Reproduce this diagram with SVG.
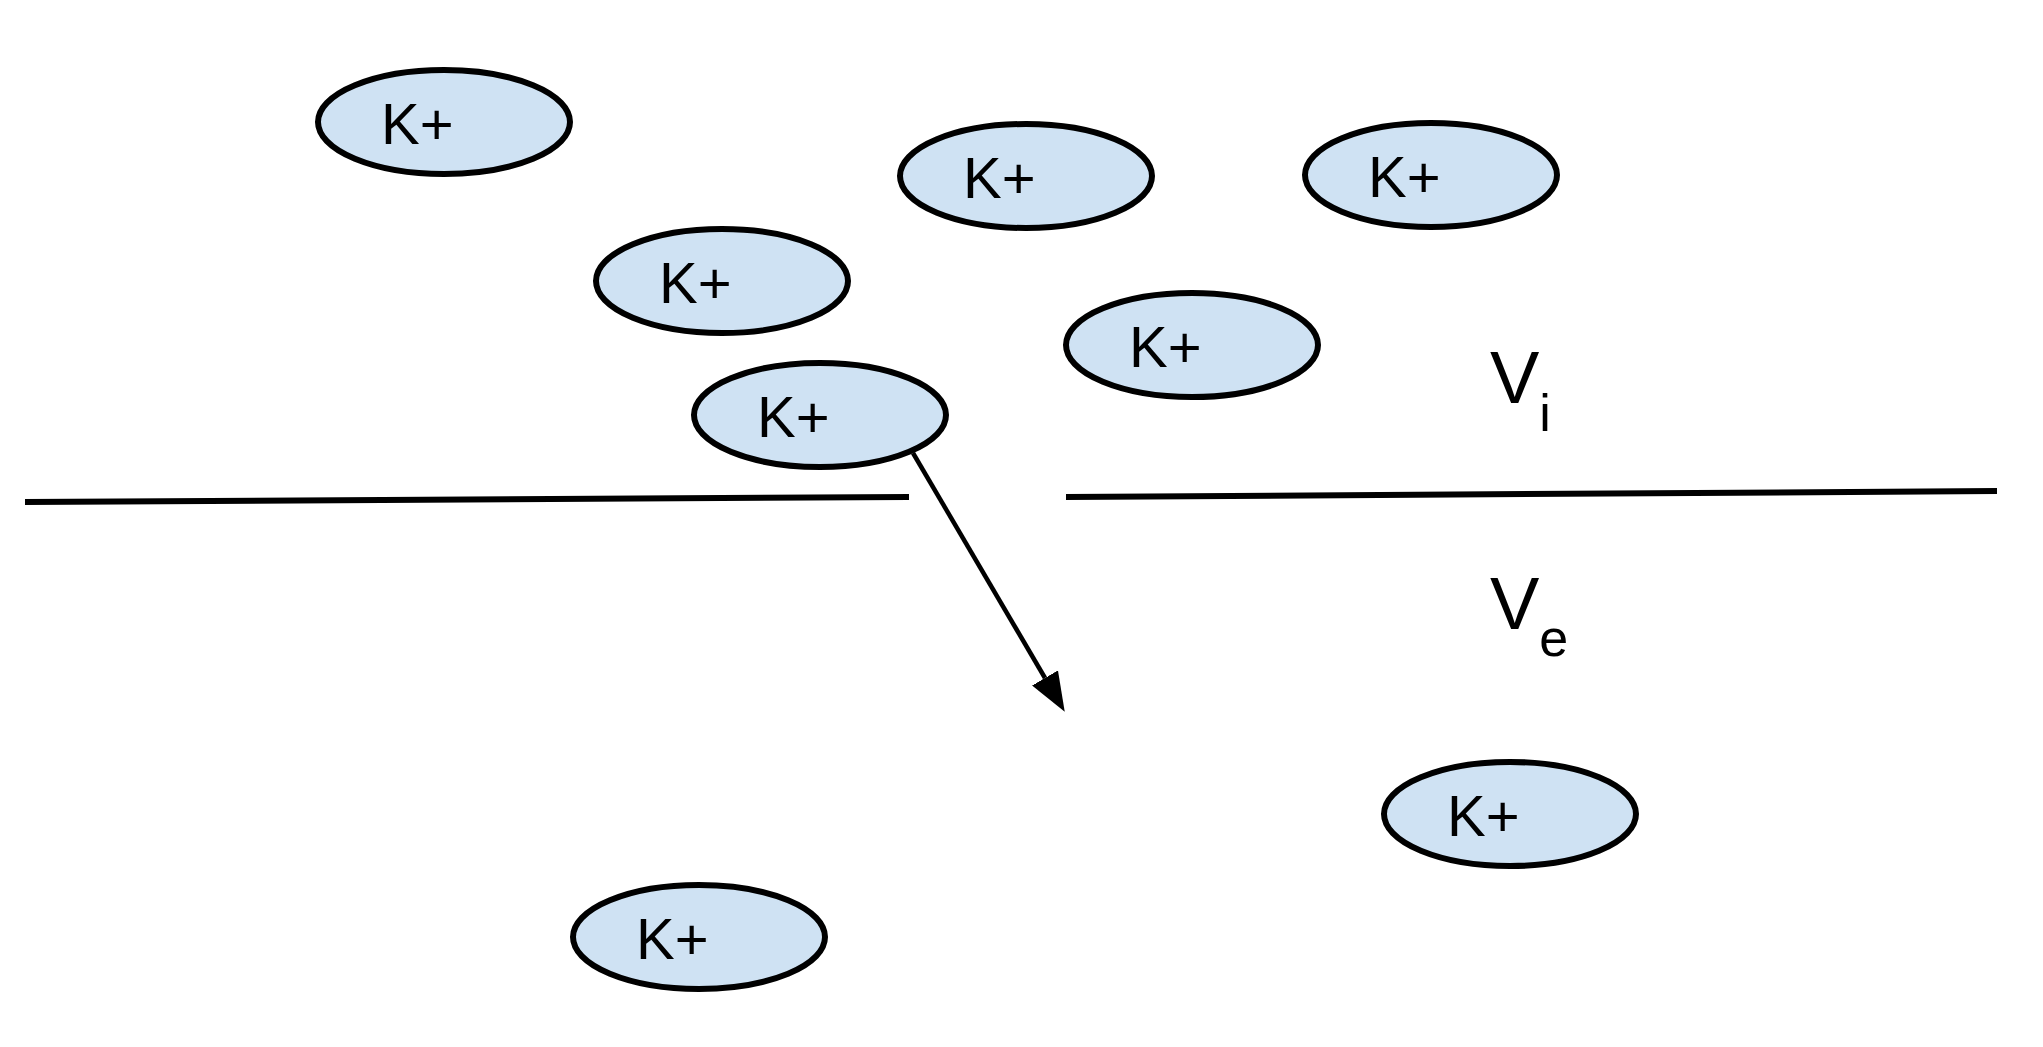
<svg xmlns="http://www.w3.org/2000/svg" width="2043" height="1047" viewBox="0 0 2043 1047">
<style>
.ion ellipse{fill:#cfe2f3;stroke:#000;stroke-width:6}
.ion text{font-family:"Liberation Sans",Arial,sans-serif;font-size:58px;fill:#000}
.lbl{font-family:"Liberation Sans",Arial,sans-serif;font-size:74px;fill:#000}
.sub{font-size:52px}
.mem{stroke:#000;stroke-width:6;fill:none}
</style>
<defs>
<marker id="ah" markerUnits="userSpaceOnUse" viewBox="0 0 39 30" refX="0" refY="15" markerWidth="39" markerHeight="30" orient="auto">
<path d="M0,0 L39,15 L0,30 Z" fill="#000"/>
</marker>
</defs>
<rect width="2043" height="1047" fill="#fff"/>
<g id="membrane">
<line class="mem" x1="25" y1="502" x2="909" y2="497"/>
<line class="mem" x1="1066" y1="497" x2="1997" y2="491"/>
</g>
<g id="ion1" class="ion"><ellipse cx="444" cy="122" rx="126" ry="52"/><text x="381" y="143.5">K+</text></g>
<g id="ion2" class="ion"><ellipse cx="722" cy="281" rx="126" ry="52"/><text x="659" y="302.5">K+</text></g>
<g id="ion3" class="ion"><ellipse cx="820" cy="415" rx="126" ry="52"/><text x="757" y="436.5">K+</text></g>
<g id="ion4" class="ion"><ellipse cx="1026" cy="176" rx="126" ry="52"/><text x="963" y="197.5">K+</text></g>
<g id="ion5" class="ion"><ellipse cx="1431" cy="175" rx="126" ry="52"/><text x="1368" y="196.5">K+</text></g>
<g id="ion6" class="ion"><ellipse cx="1192" cy="345" rx="126" ry="52"/><text x="1129" y="366.5">K+</text></g>
<g id="ion7" class="ion"><ellipse cx="699" cy="937" rx="126" ry="52"/><text x="636" y="958.5">K+</text></g>
<g id="ion8" class="ion"><ellipse cx="1510" cy="814" rx="126" ry="52"/><text x="1447" y="835.5">K+</text></g>
<g id="label-vi"><text class="lbl" x="1490" y="403">V<tspan class="sub" dy="28">i</tspan></text></g>
<g id="label-ve"><text class="lbl" x="1490" y="629">V<tspan class="sub" dy="27">e</tspan></text></g>
<g id="connectors">
<line x1="913" y1="453" x2="1045" y2="678" stroke="#000" stroke-width="4.5" marker-end="url(#ah)"/>
</g>
</svg>
